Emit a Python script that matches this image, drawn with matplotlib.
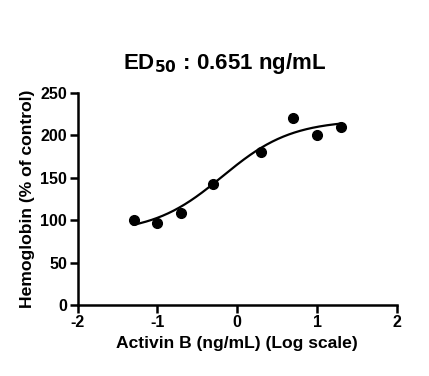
import matplotlib.pyplot as plt
import numpy as np

plt.rcParams['font.family'] = ['Liberation Sans', 'DejaVu Sans']
plt.rcParams['font.weight'] = 'bold'

# measured points (log10 ng/mL vs % of control)
log_dose = [-1.3, -1.0, -0.7, -0.3, 0.3, 0.7, 1.0, 1.3]
hemoglobin = [100, 97, 108, 142, 180, 220, 200, 210]

# 4PL fit parameters
bottom = 85
top = 218
ed50 = 0.651
hill = 1.0

xticks = [-2, -1, 0, 1, 2]
yticks = [0, 50, 100, 150, 200, 250]


def four_pl(x):
    return bottom + (top - bottom) / (1 + 10 ** ((np.log10(ed50) - x) * hill))


fig = plt.figure(figsize=(4.29, 3.76), dpi=100)
ax = fig.add_axes([0.181, 0.189, 0.744, 0.564])

xs = np.linspace(min(log_dose), max(log_dose), 300)
ax.plot(xs, four_pl(xs), color="black", linewidth=1.6)
ax.plot(log_dose, hemoglobin, linestyle="none", marker="o", markersize=7,
        color="black")

ax.spines['right'].set_color('none')
ax.spines['top'].set_color('none')
for s in ('left', 'bottom'):
    ax.spines[s].set_linewidth(1.8)
ax.tick_params(width=1.8, length=5.5, labelsize=11.5, pad=2)

ax.set(xlim=(-2, 2), xticks=xticks, ylim=(0, 250), yticks=yticks)
ax.set_xticklabels([str(t) for t in xticks], fontweight='bold')
ax.set_yticklabels([str(t) for t in yticks], fontweight='bold')

ax.set_xlabel("Activin B (ng/mL) (Log scale)", fontsize=12.6, fontweight='bold', labelpad=4)
ax.set_ylabel("Hemoglobin (% of control)", fontsize=12.6, fontweight='bold', labelpad=2)
ax.yaxis.set_label_coords(-0.135, 0.5)
fig.text(0.523, 0.832, r"ED$_{\mathrm{50}}$ : 0.651 ng/mL", ha='center', va='center',
         fontsize=16, fontweight='bold')

fig.savefig("out.png", dpi=100)
